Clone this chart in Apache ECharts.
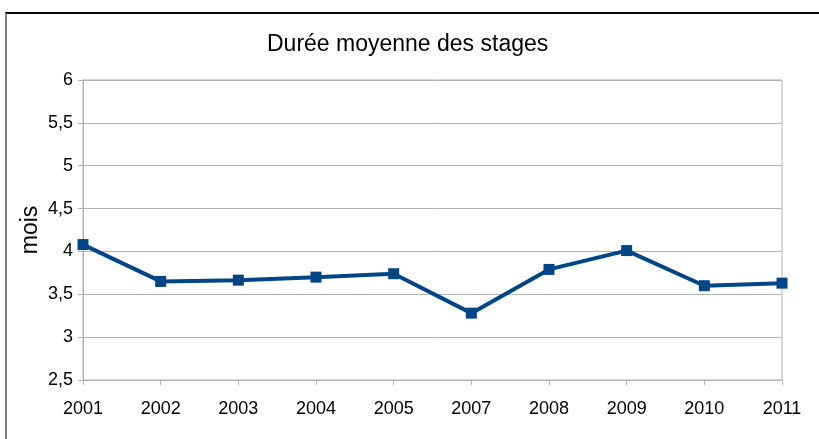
<!DOCTYPE html>
<html>
<head>
<meta charset="utf-8">
<script src="https://cdn.jsdelivr.net/npm/echarts@6/dist/echarts.min.js"></script>
<style>
  html, body { margin: 0; padding: 0; background: #fff; }
  #chart { width: 819px; height: 439px; }
  #frame {
    position: absolute; left: 5px; top: 12px; right: 0; bottom: 0;
    border-top: 2px solid #000; border-left: 2px solid #808080;
    pointer-events: none;
  }
</style>
</head>
<body>
<div id="chart"></div>
<div id="frame"></div>
<script>
// années (2006 absente dans la source)
const years = ["2001", "2002", "2003", "2004", "2005", "2007", "2008", "2009", "2010", "2011"];
// durée moyenne en mois
const duree = [4.08, 3.65, 3.665, 3.70, 3.74, 3.28, 3.79, 4.01, 3.60, 3.63];

const myChart = echarts.init(document.getElementById("chart"));
myChart.setOption({
  animation: false,
  textStyle: { fontFamily: "Liberation Sans" },
  title: {
    text: "Durée moyenne des stages",
    left: 262,
    top: 28,
    textStyle: { fontFamily: "Liberation Sans", fontSize: 23, fontWeight: "normal", color: "#000" }
  },
  grid: {
    left: 83, right: 37, top: 80, bottom: 59,
    show: true, borderColor: "#b3b3b3", borderWidth: 1
  },
  xAxis: {
    type: "category",
    data: years,
    boundaryGap: false,
    axisLine: { lineStyle: { color: "#b3b3b3", width: 1 } },
    axisTick: { show: true, alignWithLabel: true, length: 5, lineStyle: { color: "#b3b3b3" } },
    axisLabel: { color: "#000", fontSize: 18, margin: 20 },
    splitLine: { show: false }
  },
  yAxis: {
    type: "value",
    name: "mois",
    nameLocation: "middle",
    nameGap: 52,
    nameMoveOverlap: false,
    nameTextStyle: { fontSize: 23, color: "#000", verticalAlign: "middle" },
    min: 2.5,
    max: 6,
    interval: 0.5,
    axisLine: { show: true, lineStyle: { color: "#b3b3b3" } },
    axisTick: { show: true, length: 5, lineStyle: { color: "#b3b3b3" } },
    axisLabel: {
      color: "#000",
      fontSize: 18,
      margin: 10,
      formatter: v => String(v).replace(".", ",")
    },
    splitLine: { lineStyle: { color: "#b3b3b3" } }
  },
  series: [{
    type: "line",
    data: duree,
    symbol: "rect",
    symbolSize: 11,
    lineStyle: { color: "#004586", width: 4 },
    itemStyle: { color: "#004586" }
  }]
});
</script>
</body>
</html>
